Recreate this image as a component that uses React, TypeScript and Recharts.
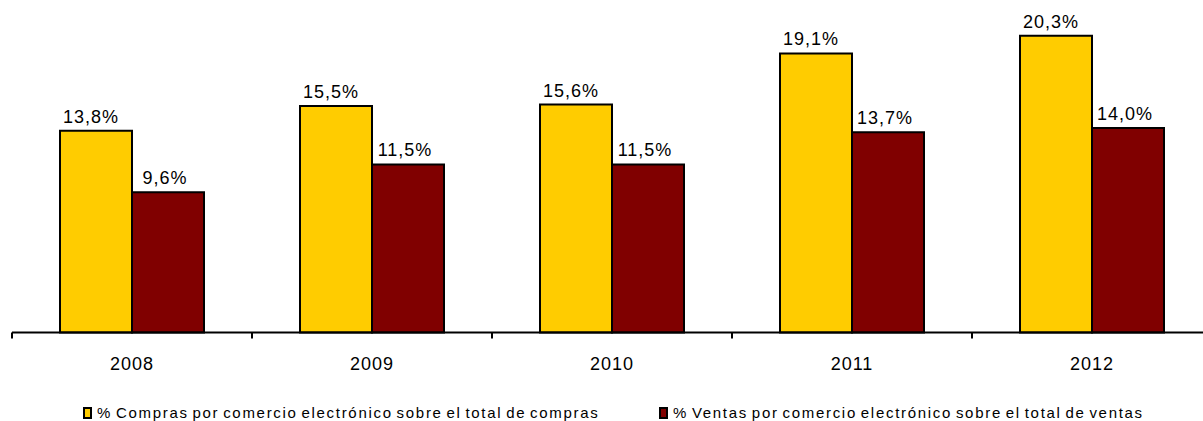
import React from 'react';
import { BarChart, Bar, XAxis, YAxis, LabelList, Legend } from 'recharts';

const FONT = '"Liberation Sans", Arial, Helvetica, sans-serif';

const years = ['2008', '2009', '2010', '2011', '2012'];
const compras = [13.8, 15.5, 15.6, 19.1, 20.3];
const ventas = [9.6, 11.5, 11.5, 13.7, 14.0];
const seriesNames = [
  '% Compras por comercio electrónico sobre el total de compras',
  '% Ventas por comercio electrónico sobre el total de ventas',
];
const seriesColors = ['#FFCC00', '#800000'];
const yDomain = [0, 22];

const data = years.map((y, i) => ({ year: y, compras: compras[i], ventas: ventas[i] }));

const fmt = (v: any) => Number(v).toFixed(1).replace('.', ',') + '%';

const legendLeft = [83, 659];

const TICK_SIZE = 6;
const TICK_MARGIN = 18.5;

const LegendContent = () => (
  <div style={{ position: 'relative', height: 17, width: 1212, fontFamily: FONT, fontSize: 15, color: '#000' }}>
    {seriesNames.map((name, i) => (
      <div key={name} style={{ position: 'absolute', left: legendLeft[i], top: 0, height: 17, display: 'flex', alignItems: 'center', whiteSpace: 'nowrap' }}>
        <span style={{ display: 'inline-block', width: 5, height: 8, border: '2px solid #000', background: seriesColors[i], marginRight: 5 }} />
        <span style={{ lineHeight: '17px', letterSpacing: 1.7, wordSpacing: -2 }}>{name}</span>
      </div>
    ))}
  </div>
);

const YearTick = (props: any) => {
  const { x, y, payload, index, visibleTicksCount, width } = props;
  const half = Number(width) / visibleTicksCount / 2;
  const axisY = y - TICK_SIZE - TICK_MARGIN;
  return (
    <g>
      <line x1={x - half} x2={x - half} y1={axisY} y2={axisY + TICK_SIZE} stroke="#000" strokeWidth={2} />
      {index === visibleTicksCount - 1 && (
        <line x1={x + half} x2={x + half} y1={axisY} y2={axisY + TICK_SIZE} stroke="#000" strokeWidth={2} />
      )}
      <text x={x} y={y} dy="0.71em" textAnchor="middle" fill="#000" fontSize={18} fontFamily={FONT} style={{ letterSpacing: 1 }}>
        {payload.value}
      </text>
    </g>
  );
};

export default function App() {
  return (
    <div style={{ position: 'fixed', left: 0, top: 0, width: 1203, height: 421, overflow: 'hidden', background: '#fff' }}>
      <div style={{ position: 'absolute', left: 0, top: 0 }}>
        <BarChart
          width={1212}
          height={421}
          data={data}
          margin={{ top: 11, right: 0, left: 12, bottom: 0 }}
          barCategoryGap="20%"
          barGap={0}
        >
          <XAxis
            dataKey="year"
            axisLine={{ stroke: '#000', strokeWidth: 2 }}
            tickLine={false}
            tickSize={TICK_SIZE}
            tickMargin={TICK_MARGIN}
            height={71.5}
            interval={0}
            tick={<YearTick />}
          />
          <YAxis hide domain={yDomain} />
          <Legend
            verticalAlign="bottom"
            content={<LegendContent />}
            wrapperStyle={{ left: 0, bottom: 0, width: 1212, height: 17 }}
          />
          <Bar dataKey="compras" name={seriesNames[0]} fill={seriesColors[0]} stroke="#000" strokeWidth={2} isAnimationActive={false}>
            <LabelList dataKey="compras" position="top" offset={8} dx={-5} formatter={fmt} style={{ fill: '#000', fontSize: 18, fontFamily: FONT, letterSpacing: 1 }} />
          </Bar>
          <Bar dataKey="ventas" name={seriesNames[1]} fill={seriesColors[1]} stroke="#000" strokeWidth={2} isAnimationActive={false}>
            <LabelList dataKey="ventas" position="top" offset={8} dx={-3} formatter={fmt} style={{ fill: '#000', fontSize: 18, fontFamily: FONT, letterSpacing: 1 }} />
          </Bar>
        </BarChart>
      </div>
    </div>
  );
}
